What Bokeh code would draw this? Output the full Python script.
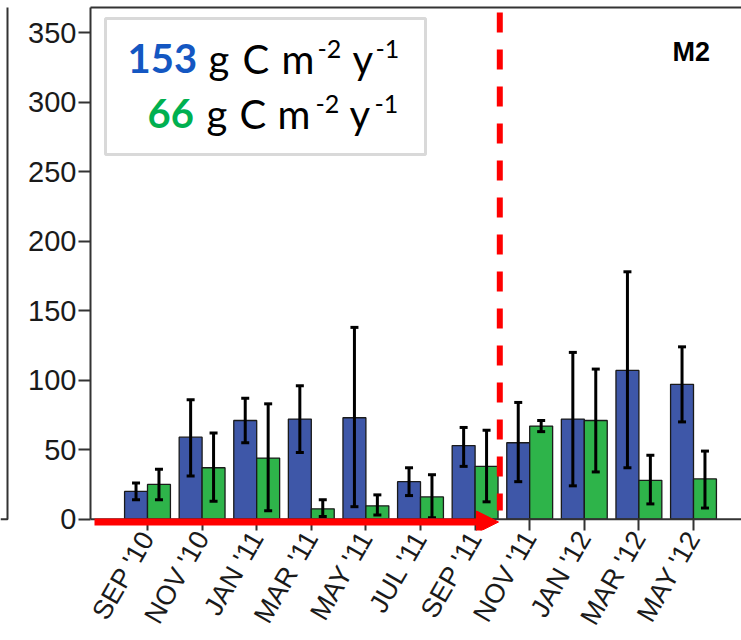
import numpy as np
from bokeh.plotting import figure
from bokeh.layouts import row
from bokeh.models import (Range1d, FixedTicker, LinearAxis, Span, Arrow, NormalHead,
                          Whisker, TeeHead, ColumnDataSource, BoxAnnotation, Label)
from bokeh.embed import file_html
from bokeh.resources import INLINE

# ---------------- data ----------------
months = ["SEP '10", "NOV '10", "JAN '11", "MAR '11", "MAY '11", "JUL '11",
          "SEP '11", "NOV '11", "JAN '12", "MAR '12", "MAY '12"]
blue_vals = [20, 59, 71, 72, 73, 27, 53, 55, 72, 107, 97]
blue_hi = [26, 86, 87, 96, 138, 37, 66, 84, 120, 178, 124]
blue_lo = [14, 31, 55, 48, 9, 17, 38, 27, 24, 37, 70]
green_vals = [25, 37, 44, 7.5, 9.6, 16, 38, 67, 71, 28, 29]
green_hi = [36, 62, 83, 14, 17.5, 32, 64, 71, 108, 46, 49]
green_lo = [14, 13, 6, 2, 3, 1, 12.5, 63, 34, 11, 8]
y_ticks = [0, 50, 100, 150, 200, 250, 300, 350]
blue_total = "153"
green_total = "66"
panel_name = "M2"

# ---------------- layout helpers (page pixel -> data) ----------------
X0_PX, XSTEP = 147.0, 54.6
Y0_PX, YSCALE = 518.7, 1.39
LEFT_W = 10


def dx(px):
    return (px - X0_PX) / XSTEP


def dy(py):
    return (Y0_PX - py) / YSCALE


BLUE = "#3E57A8"
GREEN = "#2EB44A"
AXC = "#333333"
BAR_W = 0.42
idx = np.arange(len(months))

# fragment of the neighbouring panel at the far left (frames are aligned in the row)
q = figure(width=LEFT_W, height=640, output_backend="svg", toolbar_location=None,
           x_range=Range1d(0, LEFT_W), y_range=Range1d(dy(530), dy(7)),
           x_axis_location=None, y_axis_location=None,
           min_border_left=0, min_border_right=0, min_border_top=7, min_border_bottom=110)
q.outline_line_color = None
q.grid.visible = False
q.line(x=[7, 7, 0], y=[dy(0), 0, 0], line_color=AXC, line_width=2)

p = figure(width=741 - LEFT_W, height=640, output_backend="svg", toolbar_location=None,
           x_range=Range1d(dx(90), dx(741)), y_range=Range1d(dy(530), dy(7)),
           min_border_left=90 - LEFT_W, min_border_right=0, min_border_top=7,
           min_border_bottom=110)
p.outline_line_color = None
p.grid.visible = False
p.background_fill_color = "white"
p.border_fill_color = "white"

xa = p.below[0]
ya = p.left[0]

# top border as an empty axis
top = LinearAxis(ticker=FixedTicker(ticks=[]), axis_line_width=2, axis_line_color=AXC,
                 major_tick_line_color=None, minor_tick_line_color=None,
                 major_label_text_font_size="0px", major_label_standoff=0)
p.add_layout(top, "above")

# y axis
ya.ticker = FixedTicker(ticks=y_ticks)
ya.bounds = (0, dy(7))
ya.axis_line_width = 2
ya.axis_line_color = AXC
ya.major_tick_out = 12
ya.major_tick_in = 0
ya.major_tick_line_width = 2
ya.major_tick_line_color = AXC
ya.minor_tick_line_color = None
ya.major_label_text_font = "Liberation Sans"
ya.major_label_text_font_size = "29px"
ya.major_label_text_color = "#1a1a1a"
ya.major_label_standoff = 2

# x axis
xa.ticker = FixedTicker(ticks=list(range(len(months))))
xa.major_label_overrides = {i: m for i, m in enumerate(months)}
xa.axis_line_color = None
xa.major_tick_in = 12
xa.major_tick_out = 0
xa.major_tick_line_width = 2
xa.major_tick_line_color = AXC
xa.minor_tick_line_color = None
xa.major_label_orientation = np.pi / 3
xa.major_label_text_font = "Liberation Sans"
xa.major_label_text_font_size = "27px"
xa.major_label_text_color = "#1a1a1a"
xa.major_label_standoff = 3

# bars
src_b = ColumnDataSource(dict(x=idx - BAR_W / 2, top=blue_vals, hi=blue_hi, lo=blue_lo))
src_g = ColumnDataSource(dict(x=idx + BAR_W / 2, top=green_vals, hi=green_hi, lo=green_lo))
p.vbar(x="x", top="top", bottom=0, width=BAR_W, source=src_b, fill_color=BLUE,
       line_color="#1a1a1a", line_width=1.3)
p.vbar(x="x", top="top", bottom=0, width=BAR_W, source=src_g, fill_color=GREEN,
       line_color="#1a1a1a", line_width=1.3)

for src in (src_b, src_g):
    w = Whisker(source=src, base="x", upper="hi", lower="lo", dimension="height",
                line_color="black", line_width=3, level="annotation",
                upper_head=TeeHead(size=8, line_width=3, line_color="black"),
                lower_head=TeeHead(size=8, line_width=3, line_color="black"))
    p.add_layout(w)

# zero line
p.add_layout(Span(location=0, dimension="width", line_color=AXC, line_width=2))

# red dashed divider
div_x = dx(499.3)
p.line(x=[div_x, div_x], y=[dy(12), dy(510)], line_color="#FF0000", line_width=6,
       line_dash="20 17")

# red arrow
p.add_layout(Arrow(x_start=dx(94), y_start=dy(521.5), x_end=dx(498), y_end=dy(521.5),
                   line_color="#FF0000", line_width=7,
                   end=NormalHead(size=22, fill_color="#FF0000", line_color="#FF0000")))

# legend box
p.add_layout(BoxAnnotation(left=dx(105), right=dx(425), top=dy(18), bottom=dy(154),
                           fill_color="white", fill_alpha=1.0, line_color="#808080",
                           line_width=3, level="annotation"))

FONT = "Lato"
SHIFT = 0.42  # empirical baseline correction (fraction of font size)


def lab(px, py, text, size, color="black", style="normal", font=FONT):
    p.add_layout(Label(x=dx(px), y=dy(py - SHIFT * size), text=text, text_font=font,
                       text_font_size=f"{size}px", text_color=color,
                       text_font_style=style, text_align="left",
                       text_baseline="alphabetic"))


for (num, col, nx, base, gx, cx, mx, sx, yx, s2x) in [
        (blue_total, "#1457C2", 127, 75, 208, 242, 281, 317, 352, 375),
        (green_total, "#00B050", 147, 130, 206, 239, 277, 315, 349, 374)]:
    lab(nx, base, num, 40, col, "bold")
    lab(gx, base, "g", 40)
    lab(cx, base, "C", 40)
    lab(mx, base, "m", 40)
    lab(sx, base - 16, "-2", 25)
    lab(yx, base, "y", 40)
    lab(s2x, base - 16, "-1", 25)

# panel name
lab(672, 63, panel_name, 27, "black", "bold", "Liberation Sans")

open("out.html", "w").write(file_html(row(q, p), INLINE))
